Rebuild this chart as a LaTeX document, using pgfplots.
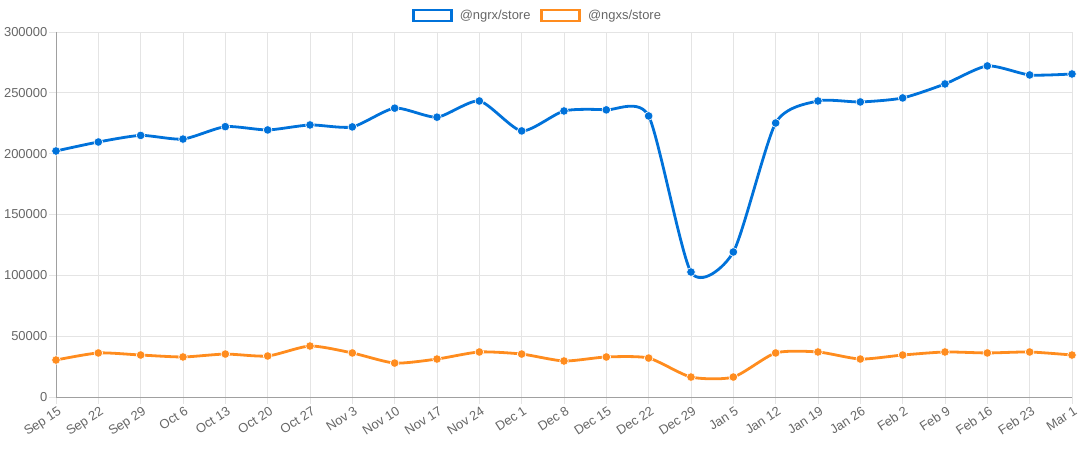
\documentclass[border=0pt]{standalone}
\usepackage{pgfplots}
\pgfplotsset{compat=1.18}
\usepackage{fontspec}
\setmainfont{Liberation Sans}
\definecolor{ngrx}{RGB}{0,114,218}
\definecolor{ngxs}{RGB}{255,140,30}
\definecolor{gridc}{RGB}{228,228,228}
\definecolor{axc}{RGB}{160,160,160}
\definecolor{txt}{RGB}{102,102,102}
\begin{document}
\begin{tikzpicture}
\begin{axis}[
  at={(56bp,53bp)}, anchor=south west,
  scale only axis, width=1016bp, height=365bp,
  xmin=0, xmax=24, ymin=0, ymax=300000,
  xtick={0,...,24},
  xticklabels={Sep 15,Sep 22,Sep 29,Oct 6,Oct 13,Oct 20,Oct 27,Nov 3,Nov 10,Nov 17,Nov 24,Dec 1,Dec 8,Dec 15,Dec 22,Dec 29,Jan 5,Jan 12,Jan 19,Jan 26,Feb 2,Feb 9,Feb 16,Feb 23,Mar 1},
  ytick={0,50000,100000,150000,200000,250000,300000},
  yticklabels={0,50000,100000,150000,200000,250000,300000},
  scaled y ticks=false,
  xtick pos=bottom, ytick pos=left,
  x tick label style={rotate=33, anchor=north east, font=\fontsize{13}{14}\selectfont, text=txt, inner sep=2bp, xshift=2bp},
  y tick label style={font=\fontsize{13}{14}\selectfont, text=txt, inner sep=1.5bp},
  grid=major,
  major grid style={gridc, line width=0.8bp},
  axis line style={draw=none},
  tick align=outside,
  major tick length=7bp,
  tick style={gridc, line width=0.8bp},
  clip=false,
  legend style={at={(0.474,1.0)}, yshift=26bp, anchor=north, draw=none, fill=none, legend columns=2,
    font=\fontsize{13}{14}\selectfont, text=txt, column sep=5bp,
    /tikz/every even column/.append style={column sep=8bp}},
  legend cell align=left,
  legend image code/.code={\draw[line width=2.6bp, fill=white] (0bp,-5.5bp) rectangle (38bp,5.5bp);},
]
\addplot[ngrx, line width=2.8bp, smooth, tension=0.4, mark=*, mark size=4.3bp, mark options={fill=ngrx, draw=white, line width=0.6bp}] coordinates {
(0,202200) (1,209600) (2,215000) (3,212000) (4,222200) (5,219500) (6,223600) (7,222000) (8,237400) (9,230000) (10,243300) (11,218700) (12,235100) (13,236000) (14,231000) (15,102700) (16,119200) (17,225200) (18,243300) (19,242500) (20,245800) (21,257300) (22,272100) (23,264700) (24,265500)};
\addlegendentry{@ngrx/store}
\addplot[ngxs, line width=2.8bp, smooth, tension=0.4, mark=*, mark size=4.3bp, mark options={fill=ngxs, draw=white, line width=0.6bp}] coordinates {
(0,30400) (1,36200) (2,34500) (3,32900) (4,35300) (5,33700) (6,41900) (7,36200) (8,27900) (9,31200) (10,37000) (11,35300) (12,29600) (13,32900) (14,32000) (15,16400) (16,16400) (17,36200) (18,37000) (19,31200) (20,34500) (21,37000) (22,36200) (23,37000) (24,34500)};
\addlegendentry{@ngxs/store}
\draw[axc, line width=0.8bp] (axis cs:0,300000) -- (axis cs:0,0) -- (axis cs:24,0);
\end{axis}
\pgfresetboundingbox
\useasboundingbox (0,0) rectangle (1080bp,450bp);
\end{tikzpicture}
\end{document}
